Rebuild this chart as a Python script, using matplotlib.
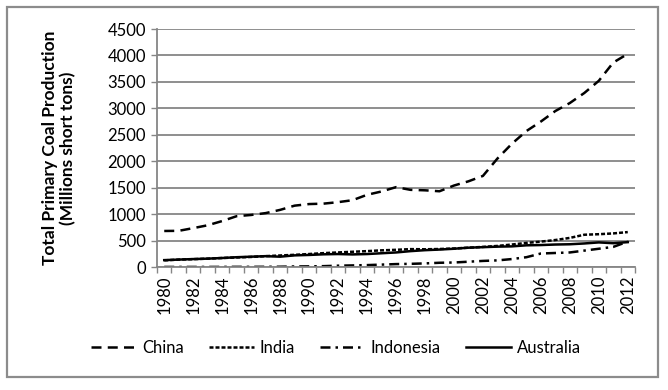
import matplotlib

matplotlib.use("Agg")
import matplotlib.pyplot as plt
from matplotlib.patches import Rectangle
import numpy as np

# ---------------------------------------------------------------------------
# Data (million short tons)
# ---------------------------------------------------------------------------
years = list(range(1980, 2013))
china = [681, 684, 735, 789, 869, 961, 984, 1019, 1080, 1160, 1190, 1198,
         1226, 1263, 1365, 1428, 1510, 1459, 1450, 1432, 1540, 1620, 1722,
         2050, 2330, 2570, 2750, 2949, 3100, 3290, 3520, 3866, 4030]
india = [125, 140, 148, 158, 170, 180, 190, 205, 218, 230, 245, 262,
         275, 288, 300, 315, 325, 338, 335, 340, 350, 365, 380, 398,
         425, 455, 480, 510, 550, 610, 620, 635, 660]
indonesia = [1, 1, 1, 1, 2, 3, 3, 4, 5, 10, 12, 16,
             25, 30, 36, 45, 55, 60, 68, 80, 85, 100, 115, 125,
             150, 185, 255, 265, 275, 310, 345, 380, 480]
australia = [130, 140, 150, 158, 170, 185, 195, 205, 195, 220, 228, 240,
             245, 238, 245, 260, 275, 300, 318, 330, 345, 365, 375, 385,
             390, 410, 415, 425, 430, 445, 465, 450, 470]

y_ticks = list(range(0, 4501, 500))

# ---------------------------------------------------------------------------
# Plot
# ---------------------------------------------------------------------------
plt.rcParams["font.family"] = ["Lato", "DejaVu Sans"]

fig = plt.figure(figsize=(6.68, 3.90), dpi=100)
ax = fig.add_axes([157 / 668, 1 - 267 / 390, 478 / 668, 238 / 390])

x = np.arange(len(years))
lw = 1.8
ax.plot(x, china, color="black", lw=lw, linestyle=(0, (4, 2.5)), label="China")
ax.plot(x, india, color="black", lw=lw, linestyle=(0, (1.6, 0.8)), label="India")
ax.plot(x, indonesia, color="black", lw=lw, linestyle=(0, (4, 2, 1, 2)), label="Indonesia")
ax.plot(x, australia, color="black", lw=lw, linestyle="-", label="Australia")

grid_c = "#868686"
tick_fs = 12
ax.set_ylim(0, 4500)
ax.set_yticks(y_ticks)
ax.set_yticklabels([str(v) for v in y_ticks], fontsize=tick_fs)
ax.yaxis.grid(True, color=grid_c, linewidth=1.3)
ax.set_axisbelow(True)

ax.set_xlim(-0.5, len(years) - 0.5)
ax.set_xticks(x[::2])
ax.set_xticklabels([str(y) for y in years[::2]], rotation=90, fontsize=tick_fs)
ax.set_xticks(np.arange(len(years) + 1) - 0.5, minor=True)
ax.tick_params(axis="x", which="major", length=0, pad=6)
ax.tick_params(axis="x", which="minor", length=4, color=grid_c, width=1)
ax.tick_params(axis="y", length=4, color=grid_c, width=1, pad=4)

for side in ("top", "right"):
    ax.spines[side].set_visible(False)
for side in ("left", "bottom"):
    ax.spines[side].set_color(grid_c)
    ax.spines[side].set_linewidth(1.3)

ax.set_ylabel("Total Primary Coal Production\n(Millions short tons)",
              fontsize=12.5, fontweight="bold")
ax.yaxis.set_label_coords(-0.168, 0.5)

fig.legend(loc="center", bbox_to_anchor=(336 / 668, 1 - 348 / 390), ncol=4,
           frameon=False, fontsize=12, handlelength=2.7, columnspacing=1.5,
           handletextpad=0.35)

fig.patches.append(Rectangle((7 / 668, 13 / 390), 651 / 668, 370 / 390,
                             transform=fig.transFigure, fill=False,
                             edgecolor="#8c8c8c", linewidth=1.6))

fig.savefig("out.png", dpi=100)
